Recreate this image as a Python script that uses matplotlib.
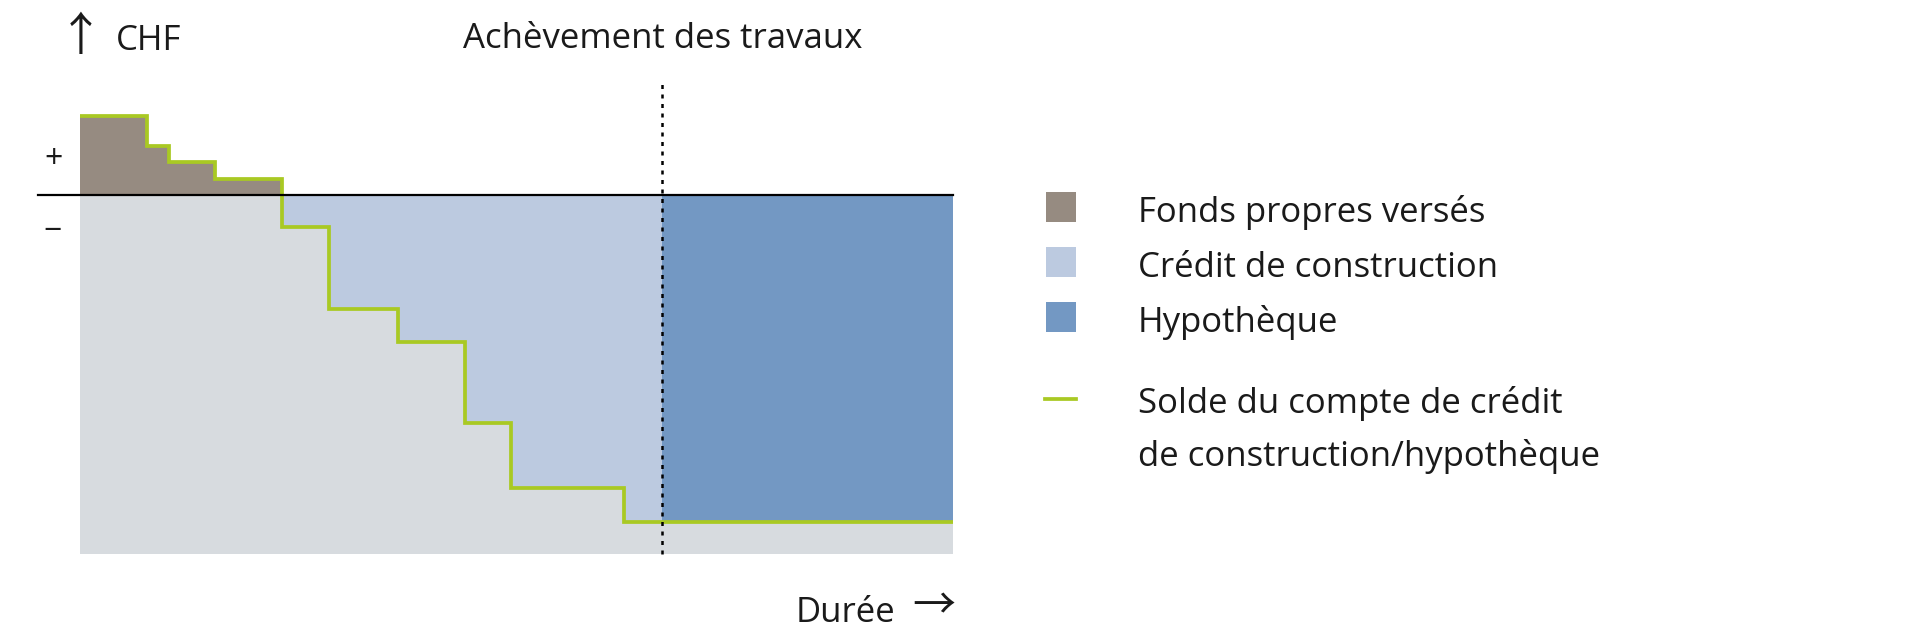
import numpy as np
import matplotlib
matplotlib.use("Agg")
import matplotlib.pyplot as plt
from matplotlib.patches import Rectangle
from matplotlib.lines import Line2D

plt.rcParams['font.family'] = ['Open Sans', 'DejaVu Sans']

# ---- data (abstract units) ----
step_edges = [0, 6.7, 8.9, 13.5, 20.2, 24.9, 31.8, 38.5, 43.1, 54.4, 87.3]
balance = [7.95, 4.93, 3.3, 1.6, -3.2, -11.4, -14.65, -22.8, -29.3, -32.67]
completion_x = 58.2
floor_value = -35.9
top_value = 11.5

legend_labels = ["Fonds propres versés", "Crédit de construction", "Hypothèque",
                 "Solde du compte de crédit\nde construction/hypothèque"]
title_text = "Achèvement des travaux"
y_label = "CHF"
x_label = "Durée"

c_equity = "#968b81"
c_bg = "#d7dbdf"
c_credit = "#bccae0"
c_mortgage = "#7398c3"
c_line = "#a9c923"
c_text = "#1a1a1a"

W, H = 1920, 640
fig = plt.figure(figsize=(19.2, 6.4), dpi=100)

def fx(px):
    return px / W

def fy(py):
    return 1 - py / H

ax = fig.add_axes([fx(80), fy(554), fx(953 - 80), (554 - 80) / H])
ax.set_xlim(step_edges[0], step_edges[-1])
ax.set_ylim(floor_value, top_value)
ax.axis("off")

x = np.array(step_edges, dtype=float)
b = np.array(balance + [balance[-1]], dtype=float)

# background gray
ax.fill_between([x[0], x[-1]], floor_value, 0, color=c_bg, lw=0, zorder=1)
# equity (positive part)
pos = np.clip(b, 0, None)
ax.fill_between(x, 0, pos, step="post", color=c_equity, lw=0, zorder=2)
# construction credit (negative part before completion)
neg = np.clip(b, None, 0)
mask_c = x <= completion_x + 1e-9
xc = np.append(x[mask_c], completion_x)
nc = np.append(neg[mask_c], neg[mask_c][-1])
ax.fill_between(xc, nc, 0, step="post", color=c_credit, lw=0, zorder=2)
# mortgage after completion
ax.fill_between([completion_x, x[-1]], balance[-1], 0, color=c_mortgage, lw=0, zorder=2)

# balance line
ax.step(x, b, where="post", color=c_line, lw=2.7, zorder=4, solid_joinstyle="miter")

# zero line, extended left beyond plot
x_left = (38 - 80) / 10.0
ax.plot([x_left, x[-1]], [0, 0], color="black", lw=1.6, zorder=5, clip_on=False)

# completion dashed line
ax.plot([completion_x, completion_x], [floor_value, top_value], color="black",
        lw=1.8, dashes=(1.6, 2.2), zorder=6, clip_on=False)

# ---- texts ----
fs = 25
arrow_fam = ['Noto Sans CJK JP', 'DejaVu Sans']
fig.text(fx(81), fy(37), "↑", ha="center", va="center", fontsize=33,
         color=c_text, family=arrow_fam)
fig.text(fx(116), fy(50), y_label, ha="left", va="baseline", fontsize=fs, color=c_text)
fig.text(fx(663), fy(48), title_text, ha="center", va="baseline", fontsize=fs, color=c_text)
fig.text(fx(53), fy(159), "+", ha="center", va="center", fontsize=fs - 2, color=c_text)
fig.text(fx(53), fy(232), "−", ha="center", va="center", fontsize=fs - 2, color=c_text)
fig.text(fx(895), fy(622), x_label, ha="right", va="baseline", fontsize=fs, color=c_text)
fig.text(fx(934), fy(607), "→", ha="center", va="center", fontsize=31,
         color=c_text, family=arrow_fam)

# ---- legend ----
sq_tops = [192, 247, 302]
colors = [c_equity, c_credit, c_mortgage]
for top, col in zip(sq_tops, colors):
    fig.patches.append(Rectangle((fx(1046), fy(top + 30)), fx(30), 30 / H,
                                 transform=fig.transFigure, color=col, lw=0))
fig.lines.append(Line2D([fx(1045), fx(1076)], [fy(399), fy(399)],
                        transform=fig.transFigure, color=c_line, lw=2.7))

baselines = [222, 277, 332]
for bl, lab in zip(baselines, legend_labels[:3]):
    fig.text(fx(1138), fy(bl), lab, ha="left", va="baseline", fontsize=fs, color=c_text)
l1, l2 = legend_labels[3].split("\n")
fig.text(fx(1138), fy(413), l1, ha="left", va="baseline", fontsize=fs, color=c_text)
fig.text(fx(1138), fy(466), l2, ha="left", va="baseline", fontsize=fs, color=c_text)

fig.savefig("out.png", dpi=100, facecolor="white")
